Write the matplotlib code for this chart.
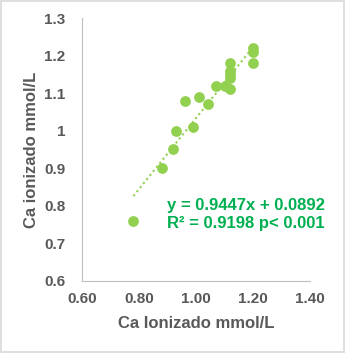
import numpy as np
import matplotlib
matplotlib.use('Agg')
import matplotlib.pyplot as plt
from matplotlib.patches import Rectangle

x_vals = [0.78, 0.88, 0.92, 0.93, 0.96, 0.99, 1.01, 1.04, 1.07, 1.10,
          1.12, 1.12, 1.12, 1.12, 1.12, 1.20, 1.20, 1.20]
y_vals = [0.76, 0.90, 0.95, 1.00, 1.08, 1.01, 1.09, 1.07, 1.12, 1.12,
          1.11, 1.18, 1.16, 1.15, 1.14, 1.18, 1.22, 1.21]
slope, intercept = 0.9447, 0.0892
xticks = [0.60, 0.80, 1.00, 1.20, 1.40]
yticks = [0.6, 0.7, 0.8, 0.9, 1.0, 1.1, 1.2, 1.3]
ytick_labels = ['0.6', '0.7', '0.8', '0.9', '1', '1.1', '1.2', '1.3']

plt.rcParams['font.family'] = ['Liberation Sans', 'DejaVu Sans']
grey = '#595959'
dot = '#92D050'
txt = '#00B050'

fig = plt.figure(figsize=(3.45, 3.53), dpi=100)
fig.patches.append(Rectangle((0.003, 0.003), 0.994, 0.994, transform=fig.transFigure,
                             fill=False, edgecolor='#D9D9D9', linewidth=1.2))
ax = fig.add_axes([0.238, 0.204, 0.661, 0.745])

ax.scatter(x_vals, y_vals, s=60, color=dot, zorder=3, linewidths=0)
xl = np.array([min(x_vals), max(x_vals)])
ax.plot(xl, slope * xl + intercept, linestyle=(0, (1, 1.5)), color=dot, linewidth=1.5)

ax.set_xlim(0.6, 1.4)
ax.set_ylim(0.6, 1.3)
ax.set_xticks(xticks)
ax.set_xticklabels(['%.2f' % v for v in xticks])
ax.set_yticks(yticks)
ax.set_yticklabels(ytick_labels)
ax.tick_params(axis='x', length=0, labelsize=11, colors=grey, pad=8)
ax.tick_params(axis='y', length=0, labelsize=11, colors=grey, pad=12)
for lab in ax.get_xticklabels() + ax.get_yticklabels():
    lab.set_fontweight('bold')
for s in ['top', 'right']:
    ax.spines[s].set_visible(False)
for s in ['left', 'bottom']:
    ax.spines[s].set_color('#BFBFBF')

ax.set_xlabel('Ca Ionizado mmol/L', fontsize=12, fontweight='bold', color=grey, labelpad=7)
ax.set_ylabel('Ca ionizado mmol/L', fontsize=12, fontweight='bold', color=grey, labelpad=4)

ax.text(0.898, 0.790, 'y = 0.9447x + 0.0892', fontsize=12, fontweight='bold', color=txt)
ax.text(0.898, 0.742, 'R² = 0.9198 p< 0.001', fontsize=12, fontweight='bold', color=txt)

fig.savefig('out.png', dpi=100)
